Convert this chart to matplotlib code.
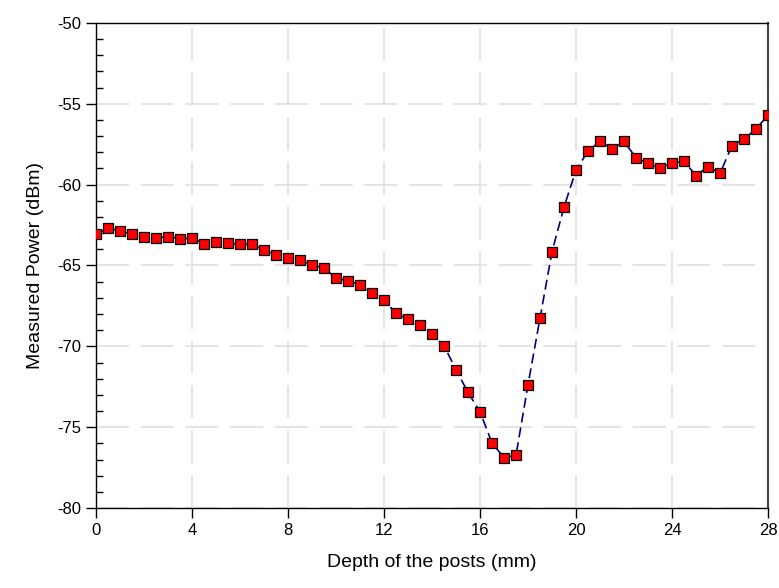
import numpy as np
import matplotlib
matplotlib.use('Agg')
from matplotlib import pyplot as plt
from matplotlib.ticker import MultipleLocator

# depth of the posts (mm), step 0.5
depth = np.arange(0, 28.01, 0.5)

# measured power (dBm)
power = [-63.07, -62.70, -62.85, -63.07, -63.22, -63.28, -63.22, -63.34, -63.32,
         -63.65, -63.53, -63.61, -63.69, -63.69, -64.04, -64.33, -64.52, -64.66,
         -64.97, -65.15, -65.79, -65.96, -66.18, -66.72, -67.13, -67.96, -68.32,
         -68.67, -69.25, -69.96, -71.44, -72.85, -74.04, -75.98, -76.88, -76.74,
         -72.38, -68.26, -64.15, -61.39, -59.10, -57.93, -57.31, -57.79, -57.33,
         -58.34, -58.69, -58.96, -58.67, -58.53, -59.45, -58.88, -59.31, -57.58,
         -57.19, -56.55, -55.71]

plt.rcParams['font.family'] = ['Liberation Sans', 'DejaVu Sans']
plt.rcParams['axes.unicode_minus'] = False

fig = plt.figure(figsize=(7.79, 5.88), dpi=100)
ax = fig.add_axes([0.1232, 0.136, 0.8627, 0.825])

ax.plot(depth, power, color='#000080', linestyle=(0, (6, 3)), linewidth=1.2,
        marker='s', markersize=6.8, markerfacecolor='#ff0000',
        markeredgecolor='#000000', markeredgewidth=0.9, zorder=3)

ax.set_xlim(0, 28)
ax.set_ylim(-80, -50)
ax.xaxis.set_major_locator(MultipleLocator(4))
ax.yaxis.set_major_locator(MultipleLocator(5))
ax.yaxis.set_minor_locator(MultipleLocator(1))

ax.tick_params(axis='both', which='major', direction='out', length=7, width=1,
               labelsize=12, colors='black')
ax.tick_params(axis='y', which='minor', direction='in', length=5, width=1)
ax.tick_params(axis='x', which='minor', length=0)

ax.grid(True, which='major', color='#e4e4e4', linestyle=(0, (17, 6)), linewidth=1.4, zorder=0)
ax.set_axisbelow(True)

for s in ax.spines.values():
    s.set_linewidth(1)
ax.spines['right'].set_color('#444444')
ax.spines['right'].set_linewidth(1.5)

ax.set_xlabel('Depth of the posts (mm)', fontsize=14, labelpad=12)
ax.set_ylabel('Measured Power (dBm)', fontsize=14, labelpad=10)

fig.savefig('out.png', dpi=100)
